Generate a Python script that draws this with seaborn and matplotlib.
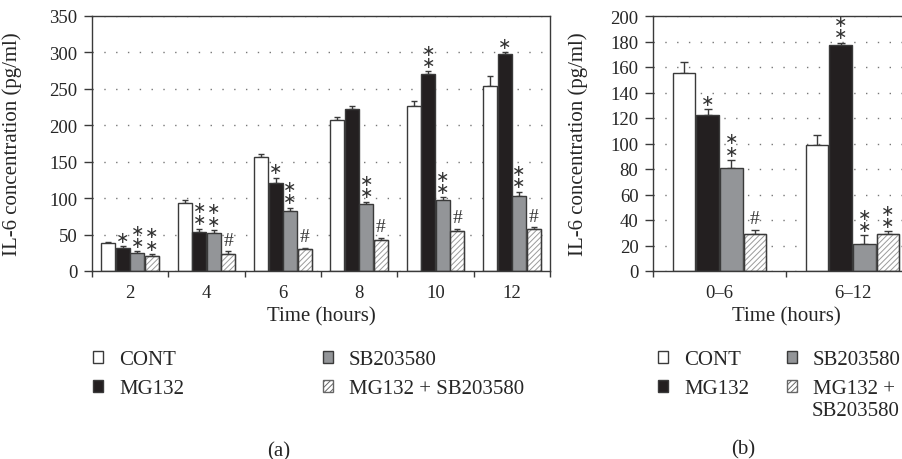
import numpy as np
import pandas as pd
import seaborn as sns
import matplotlib.pyplot as plt
from matplotlib.patches import Patch, Rectangle
from matplotlib.ticker import FixedLocator

# treatment groups
groups = ['CONT', 'MG132', 'SB203580', 'MG132 + SB203580']

# panel (a): IL-6 at each time point
hours = ['2', '4', '6', '8', '10', '12']
cont_a = [38, 93, 156, 207, 227, 254]
cont_a_err = [2, 4, 5, 5, 7, 13]
mg132_a = [31, 53, 121, 222, 270, 298]
mg132_a_err = [3, 5, 7, 5, 4, 2]
sb_a = [25, 52, 82, 92, 98, 103]
sb_a_err = [2, 4, 5, 3, 3, 6]
combo_a = [21, 24, 30, 42, 55, 58]
combo_a_err = [2, 3, 2, 3, 3, 2]
marks_a = [[''] * 6,
           ['*', '**', '*', '', '**', '*'],
           ['**', '**', '**', '**', '**', '**'],
           ['**', '#', '#', '#', '#', '#']]

# panel (b): IL-6 per interval
periods = ['0\u20136', '6\u201312']
cont_b = [155, 99]
cont_b_err = [9, 8]
mg132_b = [122, 177]
mg132_b_err = [5, 2]
sb_b = [81, 21]
sb_b_err = [6, 7]
combo_b = [29, 29]
combo_b_err = [3, 2]
marks_b = [['', ''],
           ['*', '**'],
           ['**', '**'],
           ['#', '**']]

fills = {'CONT': 'white', 'MG132': '#231f20', 'SB203580': '#939598',
         'MG132 + SB203580': 'white'}
edge = '#3a3a3a'
hatch_col = '#9a9a9a'

sns.set_style('white')
plt.rcParams['font.family'] = ['Liberation Serif', 'DejaVu Sans']
plt.rcParams['hatch.linewidth'] = 0.7
plt.rcParams['hatch.color'] = hatch_col


def panel(ax, cats, vals, errs, marks, width, ymax, ystep, capsize):
    df = pd.DataFrame({
        'cat': np.tile(cats, len(groups)),
        'group': np.repeat(groups, len(cats)),
        'value': np.concatenate(vals),
    })
    sns.barplot(data=df, x='cat', y='value', hue='group', order=cats,
                hue_order=groups, palette=fills, saturation=1,
                edgecolor=edge, linewidth=1, width=width, gap=0.04,
                errorbar=None, legend=False, ax=ax)
    bar_sets = list(ax.containers)
    for i, cont in enumerate(bar_sets):
        xs = [b.get_x() + b.get_width() / 2 for b in cont]
        for b in cont:
            b.set_zorder(2)
            if i == 3:
                b.set_hatch('//////')
                b.set_edgecolor(hatch_col)
                ax.add_patch(Rectangle(b.get_xy(), b.get_width(), b.get_height(),
                                       fill=False, edgecolor=edge, lw=1, zorder=3))
        ax.errorbar(xs, vals[i], yerr=[np.zeros(len(cats)), errs[i]], fmt='none',
                    ecolor=edge, elinewidth=1, capsize=capsize, capthick=1, zorder=1)
        for x, v, e, m in zip(xs, vals[i], errs[i], marks[i]):
            if not m:
                continue
            if m == '#':
                ax.annotate('#', (x, v + e), xytext=(0, 2), textcoords='offset points',
                            ha='center', va='bottom', fontsize=14, color='#333333')
            else:
                txt = '\u2217\n\u2217' if m == '**' else '\u2217'
                ax.annotate(txt, (x, v + e), xytext=(0, 1), textcoords='offset points',
                            ha='center', va='bottom', fontsize=11.5, linespacing=0.78,
                            color='#333333', family=['DejaVu Sans'])
    n = len(cats)
    ax.set_xlim(-0.5, n - 0.5)
    ax.set_ylim(0, ymax)
    ax.set_yticks(np.arange(0, ymax + 1, ystep))
    ax.xaxis.set_minor_locator(FixedLocator(np.arange(n + 1) - 0.5))
    ax.tick_params(axis='x', which='major', length=0, pad=9, labelsize=13.5)
    ax.tick_params(axis='x', which='minor', length=4.5, width=1, color=edge,
                   direction='out', bottom=True)
    ax.tick_params(axis='y', length=5.5, width=1, color=edge, direction='out',
                   left=True, pad=5, labelsize=13.5)
    ax.yaxis.grid(True, linestyle=(0, (1, 7.5)), color='#777777', lw=1)
    ax.set_axisbelow(True)
    for s in ax.spines.values():
        s.set_visible(True)
        s.set_color(edge)
        s.set_linewidth(1)
    ax.set_xlabel('Time (hours)', fontsize=15)
    ax.set_ylabel('IL-6 concentration (pg/ml)', fontsize=15)


fig = plt.figure(figsize=(9.03, 4.6), dpi=100)
ax_a = fig.add_axes([92 / 903, 1 - 272 / 460, 458 / 903, 255 / 460])
ax_b = fig.add_axes([653 / 903, 1 - 272 / 460, 266 / 903, 255 / 460])

panel(ax_a, hours, [cont_a, mg132_a, sb_a, combo_a],
      [cont_a_err, mg132_a_err, sb_a_err, combo_a_err], marks_a,
      0.76, 350, 50, 2.2)
panel(ax_b, periods, [cont_b, mg132_b, sb_b, combo_b],
      [cont_b_err, mg132_b_err, sb_b_err, combo_b_err], marks_b,
      0.71, 200, 20, 3)

ax_a.yaxis.set_label_coords(-0.153, 0.5)
ax_b.yaxis.set_label_coords(-0.244, 0.5)
ax_a.xaxis.set_label_coords(0.5, -0.14)
ax_b.xaxis.set_label_coords(0.5, -0.14)


def handle(g):
    if g == 'MG132 + SB203580':
        return Patch(facecolor='white', edgecolor='#666666', hatch='//////', lw=1)
    return Patch(facecolor=fills[g], edgecolor=edge, lw=1)


leg_kw = dict(loc='upper left', frameon=False, fontsize=15, handlelength=0.5,
              handleheight=0.5, handletextpad=0.75, labelspacing=0.5,
              borderpad=0, borderaxespad=0)
top = 1 - 351 / 460
fig.legend(handles=[handle(g) for g in groups[:2]], labels=groups[:2],
           bbox_to_anchor=(93 / 903, top), **leg_kw)
fig.legend(handles=[handle(g) for g in groups[2:]], labels=groups[2:],
           bbox_to_anchor=(323 / 903, top), **leg_kw)
fig.legend(handles=[handle(g) for g in groups[:2]], labels=groups[:2],
           bbox_to_anchor=(658 / 903, top), **leg_kw)
fig.legend(handles=[handle(g) for g in groups[2:]],
           labels=['SB203580', 'MG132 +'],
           bbox_to_anchor=(787 / 903, top), **leg_kw)
fig.text(812 / 903, 1 - 412 / 460, 'SB203580', ha='left', va='center', fontsize=15)

fig.text(279 / 903, 1 - 452 / 460, '(a)', ha='center', va='center', fontsize=15)
fig.text(743 / 903, 1 - 450 / 460, '(b)', ha='center', va='center', fontsize=15)

fig.savefig('out.png', dpi=100)
